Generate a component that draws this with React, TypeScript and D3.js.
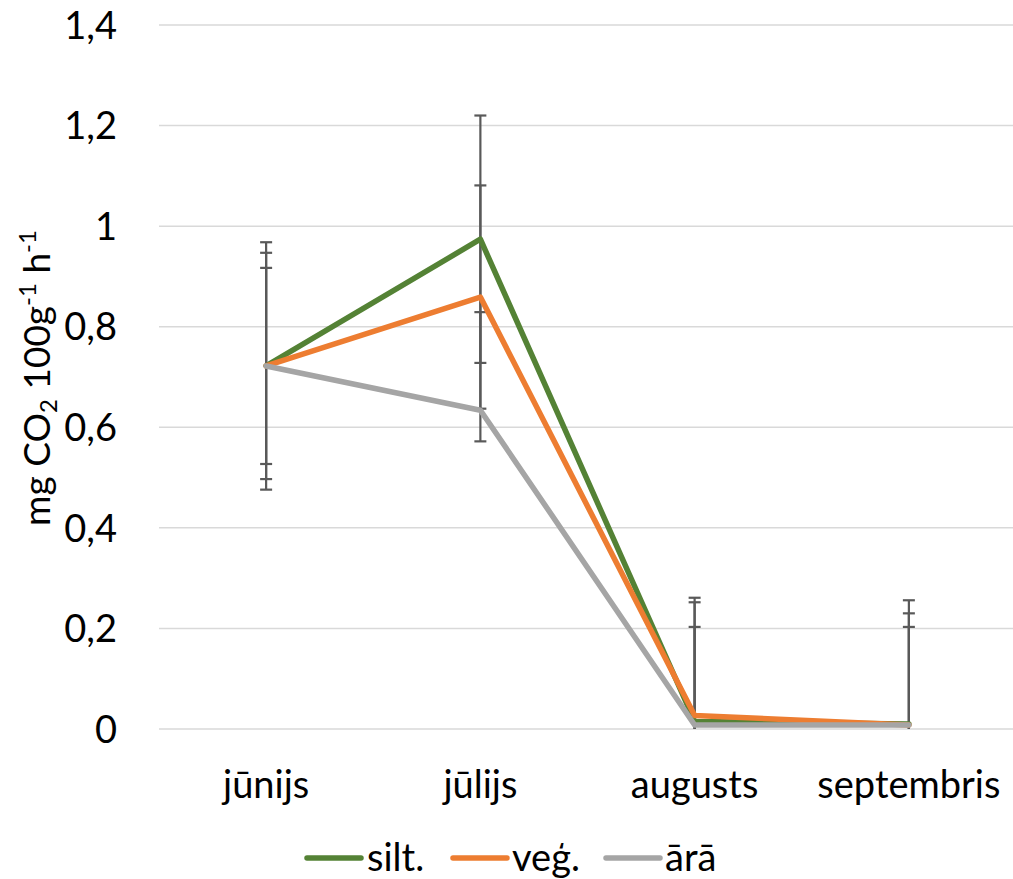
import React from 'react';
import * as d3 from 'd3';

const months = ['jūnijs', 'jūlijs', 'augusts', 'septembris'];
const yTicks = [0, 0.2, 0.4, 0.6, 0.8, 1, 1.2, 1.4];

const silt = [0.722, 0.974, 0.015, 0.01];
const veg = [0.722, 0.859, 0.027, 0.008];
const ara = [0.722, 0.634, 0.008, 0.008];

// error bars (plus / minus)
const siltErrPlus = [0.246, 0.246, 0.246, 0.246];
const siltErrMinus = [0.246, 0.246, 0.246, 0.246];
const vegErrPlus = [0.225, 0.222, 0.225, 0.222];
const vegErrMinus = [0.225, 0.222, 0.225, 0.222];
const araErrPlus = [0.195, 0.195, 0.195, 0.195];
const araErrMinus = [0.195, 0.062, 0.195, 0.195];

const seriesNames = ['silt.', 'veģ.', 'ārā'];
const colors = ['#548235', '#ED7D31', '#A5A5A5'];

const W = 1013;
const H = 879;
const left = 159;
const right = 1016;
const top = 25;
const bottom = 729;
const FONT = 'Lato, "Open Sans", sans-serif';
const FS = 38;

export default function App() {
  const series = [
    { name: seriesNames[0], values: silt, plus: siltErrPlus, minus: siltErrMinus, color: colors[0] },
    { name: seriesNames[1], values: veg, plus: vegErrPlus, minus: vegErrMinus, color: colors[1] },
    { name: seriesNames[2], values: ara, plus: araErrPlus, minus: araErrMinus, color: colors[2] },
  ];

  const x = d3.scaleBand<string>().domain(months).range([left, right]);
  const y = d3.scaleLinear().domain([0, 1.4]).range([bottom, top]);
  const cx = (m: string) => (x(m) as number) + x.bandwidth() / 2;
  const fmt = (v: number) => d3.format('.1~f')(v).replace('.', ',');

  const line = d3
    .line<number>()
    .x((_, i) => cx(months[i]))
    .y(d => y(d));

  const legendItems = [
    { x: 307, textX: 367 },
    { x: 453, textX: 512 },
    { x: 606, textX: 665 },
  ];

  return (
    <svg width={W} height={H} style={{ position: 'absolute', left: 0, top: 0 }}>
      <rect width={W} height={H} fill="#fff" />
      {/* gridlines */}
      {yTicks.map(t => (
        <line key={t} x1={left} x2={right} y1={y(t)} y2={y(t)} stroke="#D9D9D9" strokeWidth={1.5} />
      ))}
      {/* y tick labels */}
      {yTicks.map(t => (
        <text
          key={'l' + t}
          x={117}
          y={y(t)}
          dy="0.36em"
          textAnchor="end"
          fontFamily={FONT}
          fontSize={FS}
          fill="#000"
        >
          {fmt(t)}
        </text>
      ))}
      {/* x labels */}
      {months.map(m => (
        <text
          key={m}
          x={cx(m)}
          y={798}
          textAnchor="middle"
          fontFamily={FONT}
          fontSize={FS}
          fill="#000"
        >
          {m}
        </text>
      ))}
      {/* axis title */}
      <text
        transform="translate(50,378) rotate(-90)"
        textAnchor="middle"
        fontFamily={FONT}
        fontSize={37}
        fill="#000"
      >
        mg CO<tspan fontSize={24} dy={7}>2</tspan>
        <tspan dy={-7}> 100g</tspan>
        <tspan fontSize={24} dy={-14}>-1</tspan>
        <tspan dy={14}> h</tspan>
        <tspan fontSize={24} dy={-14}>-1</tspan>
      </text>
      {/* error bars */}
      {series.map(s =>
        s.values.map((v, i) => {
          const xc = cx(months[i]);
          const hi = y(Math.min(1.4, v + s.plus[i]));
          const loVal = v - s.minus[i];
          const lo = y(Math.max(0, loVal));
          return (
            <g key={s.name + i} stroke="#595959" strokeWidth={2.2}>
              <line x1={xc} x2={xc} y1={hi} y2={lo} />
              <line x1={xc - 6} x2={xc + 6} y1={hi} y2={hi} />
              {loVal >= 0 && <line x1={xc - 6} x2={xc + 6} y1={lo} y2={lo} />}
            </g>
          );
        })
      )}
      {/* lines */}
      {series.map(s => (
        <path
          key={s.name}
          d={line(s.values) as string}
          fill="none"
          stroke={s.color}
          strokeWidth={5.5}
          strokeLinejoin="round"
          strokeLinecap="round"
        />
      ))}
      {/* legend */}
      {series.map((s, i) => (
        <g key={'lg' + i}>
          <line
            x1={legendItems[i].x}
            x2={legendItems[i].x + 54}
            y1={858}
            y2={858}
            stroke={s.color}
            strokeWidth={5.5}
            strokeLinecap="round"
          />
          <text
            x={legendItems[i].textX}
            y={871}
            fontFamily={FONT}
            fontSize={FS}
            fill="#000"
          >
            {s.name}
          </text>
        </g>
      ))}
    </svg>
  );
}
